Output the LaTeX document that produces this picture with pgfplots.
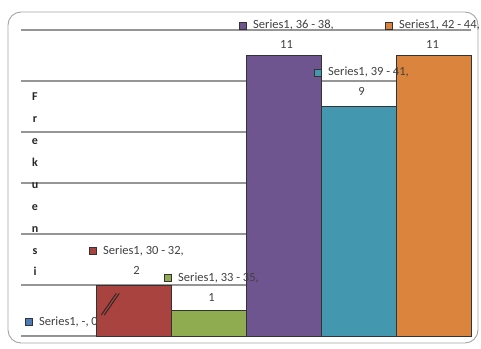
\documentclass[border=0pt]{standalone}
\usepackage{pgfplots}
\pgfplotsset{compat=1.18}
\usepackage{fontspec}
\setmainfont{Carlito}
\definecolor{cBlue}{HTML}{4A7DB8}
\definecolor{cRed}{HTML}{A8433F}
\definecolor{cGreen}{HTML}{8FAC50}
\definecolor{cPurple}{HTML}{6F5590}
\definecolor{cTeal}{HTML}{4398AF}
\definecolor{cOrange}{HTML}{DB843E}
\definecolor{gridc}{RGB}{150,150,150}
\newcommand{\lk}[1]{{\setlength{\fboxsep}{0pt}\setlength{\fboxrule}{0.7pt}\fcolorbox{black!80}{#1}{\rule{0pt}{6.5bp}\rule{6.5bp}{0pt}}}\hspace{6bp}}
\begin{document}
\begin{tikzpicture}
\useasboundingbox (0,0) rectangle (481bp,349bp);
\draw[color={rgb,255:red,165;green,165;blue,165}, line width=0.9bp, rounded corners=13bp] (8bp,6bp) rectangle (478bp,337bp);
\begin{axis}[
  at={(21bp,13bp)}, anchor=south west,
  scale only axis, width=450bp, height=306bp,
  xmin=-0.5, xmax=5.5, ymin=0, ymax=12,
  axis line style={draw=none},
  xtick=\empty, ytick={0,2,...,12}, yticklabels={},
  major tick length=0pt,
  ymajorgrids, grid style={gridc, line width=1.3bp},
  clip=false,
  ybar, bar width=1, bar shift=0pt,
  every node near coord/.append style={anchor=center, align=center,
     font=\fontsize{12.5bp}{20bp}\selectfont, text=black!75},
  ylabel={F\\r\\e\\k\\u\\e\\n\\s\\i},
  ylabel style={rotate=-90, at={(axis description cs:0,0.5)}, anchor=center,
     xshift=14bp, yshift=-1.5bp, align=center,
     font=\bfseries\fontsize{12bp}{21.9bp}\selectfont, text=black!85},
]
\addplot[fill=cBlue, draw=none, nodes near coords={\lk{cBlue}Series1, -, 0},
  every node near coord/.append style={yshift=14bp, xshift=3bp}] coordinates {(0,0)};
\addplot[fill=cRed, draw=black!80, line width=0.8bp, nodes near coords={\lk{cRed}Series1, 30 - 32,\\2},
  every node near coord/.append style={yshift=25bp, xshift=3bp}] coordinates {(1,2)};
\addplot[fill=cGreen, draw=black!80, line width=0.8bp, nodes near coords={\lk{cGreen}Series1, 33 - 35,\\1},
  every node near coord/.append style={yshift=23.5bp, xshift=3bp}] coordinates {(2,1)};
\addplot[fill=cPurple, draw=black!80, line width=0.8bp, nodes near coords={\lk{cPurple}Series1, 36 - 38,\\11},
  every node near coord/.append style={yshift=21bp, xshift=3bp}] coordinates {(3,11)};
\addplot[fill=cTeal, draw=black!80, line width=0.8bp, nodes near coords={\lk{cTeal}Series1, 39 - 41,\\9},
  every node near coord/.append style={yshift=25bp, xshift=3bp}] coordinates {(4,9)};
\addplot[fill=cOrange, draw=black!80, line width=0.8bp, nodes near coords={\lk{cOrange}Series1, 42 - 44,\\11},
  every node near coord/.append style={yshift=21bp, xshift=-1bp}] coordinates {(5,11)};
\draw[black!85, line width=0.9bp] (axis cs:0.57,0.82) -- (axis cs:0.77,1.67);
\draw[black!85, line width=0.9bp] (axis cs:0.61,0.82) -- (axis cs:0.81,1.67);
\end{axis}
\end{tikzpicture}
\end{document}
